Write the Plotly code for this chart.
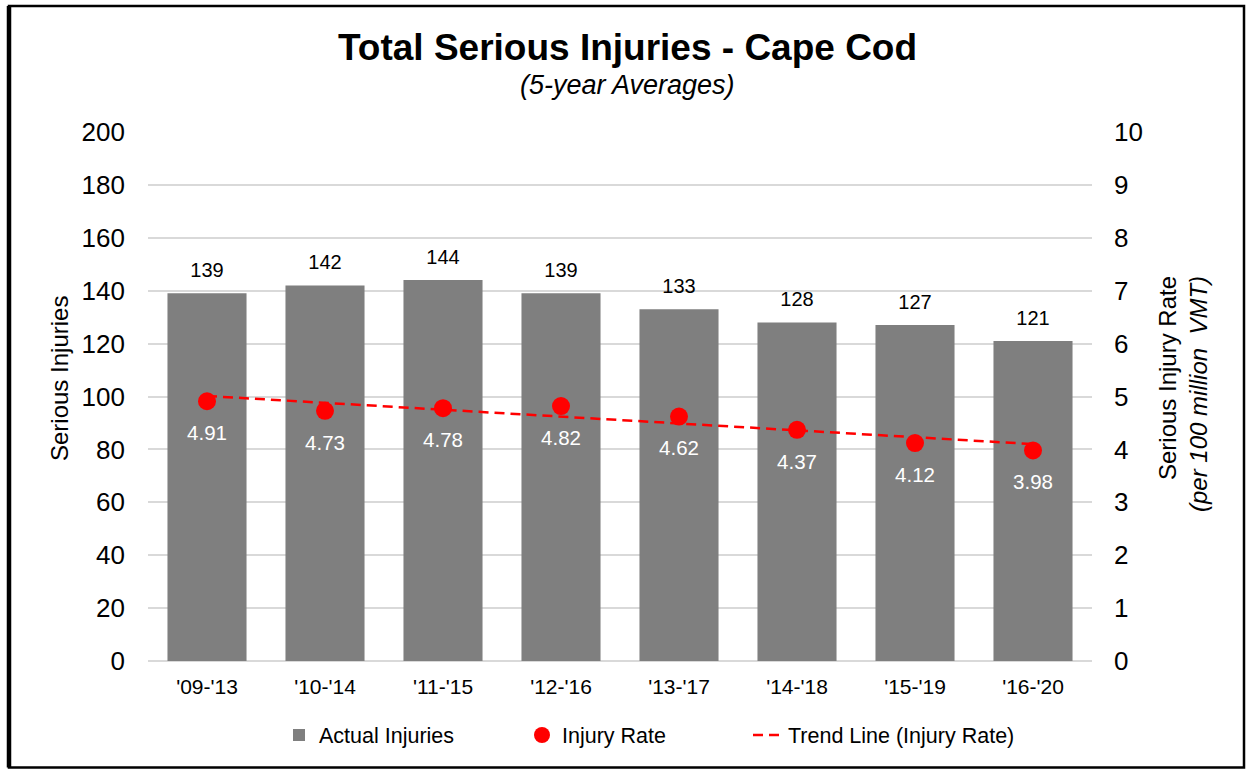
import plotly.graph_objects as go

# ---- data ----
periods = ["'09-'13", "'10-'14", "'11-'15", "'12-'16", "'13-'17", "'14-'18", "'15-'19", "'16-'20"]
injuries = [139, 142, 144, 139, 133, 128, 127, 121]
injury_rate = [4.91, 4.73, 4.78, 4.82, 4.62, 4.37, 4.12, 3.98]
trend_periods = ["'09-'13", "'16-'20"]
trend_values = [5.01, 4.10]

FONT = "Arial, Liberation Sans, sans-serif"
GREY = "#7f7f7f"
RED = "#ff0000"

fig = go.Figure()

fig.add_trace(go.Bar(
    x=periods, y=injuries, name="Actual Injuries",
    marker=dict(color=GREY, line=dict(width=0)),
    legend="legend", hoverinfo="x+y",
))
# bar value labels
fig.add_trace(go.Scatter(
    x=periods, y=injuries, mode="markers+text",
    text=[str(v) for v in injuries], textposition="top center",
    textfont=dict(size=20, color="#000000", family=FONT),
    marker=dict(size=16, color="rgba(0,0,0,0)"),
    showlegend=False, cliponaxis=False, hoverinfo="skip",
))
fig.add_trace(go.Scatter(
    x=trend_periods, y=trend_values, mode="lines", name="Trend Line (Injury Rate)",
    line=dict(color=RED, width=2.5, dash="10px,6px"),
    yaxis="y2", legend="legend3", hoverinfo="skip",
))
fig.add_trace(go.Scatter(
    x=periods, y=injury_rate, mode="markers", name="Injury Rate",
    marker=dict(size=18, color=RED),
    yaxis="y2", legend="legend2", cliponaxis=False,
))
# rate value labels
fig.add_trace(go.Scatter(
    x=periods, y=injury_rate, mode="markers+text",
    text=[f"{v:.2f}" for v in injury_rate], textposition="bottom center",
    textfont=dict(size=20.5, color="#ffffff", family=FONT),
    marker=dict(size=36, color="rgba(0,0,0,0)"),
    yaxis="y2", showlegend=False, cliponaxis=False, hoverinfo="skip",
))

L, R, T, B = 148, 154, 132, 109
PW = 1246 - L - R
PH = 770 - T - B


def px(x):
    return (x - L) / PW


def py(y):
    return (770 - B - y) / PH


LEG_Y = py(735)
fig.update_layout(
    width=1246, height=770,
    margin=dict(l=L, r=R, t=T, b=B, autoexpand=False),
    paper_bgcolor="white", plot_bgcolor="white",
    font=dict(family=FONT, color="#000000"),
    bargap=0.33,
    xaxis=dict(
        type="category", range=[-0.5, len(periods) - 0.5],
        showgrid=False, showline=False, zeroline=False,
        tickfont=dict(size=21), ticks="", ticklabelstandoff=11,
    ),
    yaxis=dict(
        range=[0, 200], dtick=20, showgrid=True, gridcolor="#d9d9d9", gridwidth=1.5,
        zeroline=True, zerolinecolor="#d9d9d9", zerolinewidth=1.5, showline=False,
        tickfont=dict(size=26), ticks="", ticklabelstandoff=22,
    ),
    yaxis2=dict(
        range=[0, 10], dtick=1, overlaying="y", side="right", showgrid=False,
        zeroline=False, showline=False,
        tickfont=dict(size=26), ticks="", ticklabelstandoff=21,
    ),
    legend=dict(orientation="h", x=px(279), y=LEG_Y, xanchor="left", yanchor="middle",
                font=dict(size=21.5), bgcolor="rgba(0,0,0,0)"),
    legend2=dict(orientation="h", x=px(522), y=LEG_Y, xanchor="left", yanchor="middle",
                 font=dict(size=21.5), bgcolor="rgba(0,0,0,0)"),
    legend3=dict(orientation="h", x=px(748), y=LEG_Y, xanchor="left", yanchor="middle",
                 font=dict(size=21.5), bgcolor="rgba(0,0,0,0)"),
    annotations=[
        dict(text="<b>Total Serious Injuries - Cape Cod</b>", xref="paper", yref="paper",
             x=px(627), y=py(47), xanchor="center", yanchor="middle", showarrow=False,
             font=dict(size=37)),
        dict(text="<i>(5-year Averages)</i>", xref="paper", yref="paper",
             x=px(627), y=py(85), xanchor="center", yanchor="middle", showarrow=False,
             font=dict(size=27)),
        dict(text="Serious Injuries", xref="paper", yref="paper",
             x=px(59), y=py(379), xanchor="center", yanchor="middle", showarrow=False,
             textangle=-90, font=dict(size=24)),
        dict(text="Serious Injury Rate<br><i>(per 100 million  VMT)</i>", xref="paper", yref="paper",
             x=px(1183), y=py(394), xanchor="center", yanchor="middle", showarrow=False,
             textangle=-90, align="right", font=dict(size=24)),
    ],
    shapes=[
        dict(type="rect", xref="paper", yref="paper",
             x0=px(9), x1=px(1244), y0=py(767.5), y1=py(6),
             line=dict(color="#000000", width=2.5), layer="below"),
        dict(type="line", xref="paper", yref="paper",
             x0=px(9), x1=px(9), y0=py(767.5), y1=py(6),
             line=dict(color="#000000", width=4.5), layer="below"),
    ],
)

fig.write_html(
    "out.html",
    config={"displayModeBar": False},
    post_script="document.body.style.margin='0';document.body.style.padding='0';"
                "document.body.style.overflow='hidden';",
)
